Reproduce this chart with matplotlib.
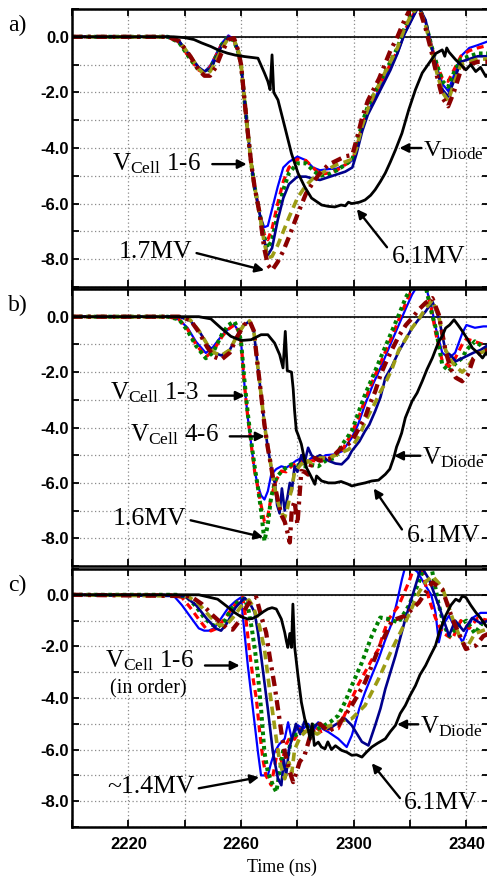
import matplotlib
matplotlib.use('Agg')
import matplotlib.pyplot as plt
from matplotlib.ticker import FixedLocator, NullFormatter, FormatStrFormatter

plt.rcParams['mathtext.fontset'] = 'custom'
plt.rcParams['mathtext.rm'] = 'Liberation Serif'
plt.rcParams['mathtext.it'] = 'Liberation Serif:italic'

SERIF = 'Liberation Serif'
SANS = 'Liberation Sans'

X_MAJOR = [2220, 2260, 2300, 2340]
X_MINOR = [2200, 2240, 2280, 2320]
Y_MAJOR = [0.0, -2.0, -4.0, -6.0, -8.0]
Y_MINOR = [1.0, -1.0, -3.0, -5.0, -7.0, -9.0]
X_LIM = (2200, 2348)
Y_LIM = (-9, 1)

# ---------------- panel a ----------------
A_T_CELL = [2200, 2234, 2238, 2242, 2245, 2247, 2249, 2251, 2253, 2255.5, 2257.5, 2259, 2260, 2261.2,
            2262.4, 2263.6, 2264.8, 2266.6, 2268.2, 2269.5, 2271, 2273, 2275, 2277, 2280, 2283, 2285.5,
            2288, 2291, 2294, 2297, 2299.5, 2301, 2303, 2305, 2307, 2309, 2311, 2313, 2315.5, 2318,
            2320.5, 2323, 2325.5, 2327.5, 2329.5, 2331.5, 2333.5, 2335.5, 2338, 2341, 2344, 2348]
A_V_CELL1 = [0, 0, -0.2, -0.75, -1.15, -1.25, -1.05, -0.65, -0.25, 0.05, -0.1, -0.5, -1.0, -2.25,
             -3.45, -4.55, -5.4, -6.36, -6.85, -6.8, -6.2, -5.4, -4.7, -4.5, -4.31, -4.44, -4.7,
             -4.8, -4.76, -4.74, -4.6, -4.45, -4.1, -3.3, -2.7, -2.3, -1.9, -1.45, -1.1, -0.6, 0.1,
             0.6, 1.1, 0.5, -0.3, -1.1, -1.7, -1.95, -1.4, -0.7, -0.4, -0.3, -0.15]
A_V_CELL2 = [0, 0, -0.2, -0.8, -1.2, -1.3, -1.1, -0.7, -0.3, 0.0, -0.15, -0.55, -1.0, -2.25,
             -3.45, -4.55, -5.4, -6.36, -7.1, -7.3, -6.9, -6.0, -5.2, -4.7, -4.4, -4.45, -4.7,
             -4.95, -4.9, -4.8, -4.6, -4.45, -4.0, -3.2, -2.6, -2.2, -1.8, -1.35, -1.0, -0.5, 0.2,
             0.7, 1.1, 0.5, -0.3, -1.0, -1.5, -1.6, -1.2, -0.7, -0.5, -0.4, -0.3]
A_V_CELL3 = [0, 0, -0.2, -0.8, -1.2, -1.3, -1.15, -0.75, -0.3, 0.0, -0.15, -0.55, -1.0, -2.25,
             -3.45, -4.55, -5.4, -6.36, -7.2, -7.6, -7.3, -6.4, -5.5, -4.9, -4.55, -4.55, -4.8,
             -5.0, -4.95, -4.8, -4.6, -4.4, -3.9, -3.1, -2.5, -2.1, -1.7, -1.3, -0.9, -0.4, 0.3,
             0.8, 1.1, 0.5, -0.3, -1.0, -1.6, -1.8, -1.3, -0.8, -0.7, -0.6, -0.6]
A_V_CELL4 = [0, 0, -0.15, -0.7, -1.1, -1.25, -1.15, -0.8, -0.35, 0.0, -0.1, -0.5, -1.0, -2.25,
             -3.45, -4.55, -5.4, -6.36, -7.3, -7.85, -7.6, -6.6, -5.8, -5.3, -5.03, -5.03, -5.1,
             -5.15, -5.05, -4.95, -4.85, -4.7, -4.2, -3.4, -2.8, -2.4, -2.0, -1.6, -1.2, -0.6, 0.1,
             0.6, 1.1, 0.6, -0.3, -1.2, -1.9, -2.15, -1.6, -0.9, -0.8, -0.7, -0.7]
A_V_CELL5 = [0, 0, -0.15, -0.7, -1.15, -1.35, -1.25, -0.9, -0.45, -0.05, -0.1, -0.5, -1.0, -2.25,
             -3.45, -4.55, -5.4, -6.36, -7.4, -7.95, -7.9, -7.5, -7.0, -6.5, -5.8, -5.35, -5.1,
             -4.95, -4.75, -4.6, -4.5, -4.4, -4.0, -3.2, -2.6, -2.1, -1.7, -1.3, -0.9, -0.4, 0.3,
             0.8, 1.1, 0.4, -0.4, -1.3, -2.0, -2.3, -1.7, -1.0, -0.9, -0.8, -0.8]
A_V_CELL6 = [0, 0, -0.15, -0.7, -1.2, -1.4, -1.4, -1.1, -0.6, -0.1, -0.05, -0.5, -1.0, -2.25,
             -3.45, -4.55, -5.4, -6.36, -7.6, -8.2, -8.4, -8.1, -7.7, -7.2, -6.4, -5.65, -5.25,
             -4.9, -4.6, -4.45, -4.3, -4.25, -3.7, -2.9, -2.3, -1.9, -1.5, -1.0, -0.5, 0.0, 0.6,
             1.1, 1.1, 0.3, -0.5, -1.4, -2.2, -2.5, -2.0, -1.2, -1.0, -0.9, -0.9]
A_T_DIODE = [2200, 2236, 2240, 2243.3, 2246, 2249.3, 2252, 2255.2, 2258, 2261.2, 2263.6, 2266, 2268.3,
             2269.5, 2270.3, 2271.0, 2271.6, 2273.1, 2275.5, 2277.9, 2280.2, 2282.6, 2285, 2288.6,
             2291, 2293.3, 2295.5, 2297, 2298.1, 2299.3, 2302, 2304, 2306, 2307.6, 2309.5, 2311.2,
             2313, 2314.8, 2317.1, 2319.5, 2321.9, 2324.3, 2326.7, 2329.1, 2331.4, 2332.3, 2333,
             2333.8, 2336.2, 2338, 2339.8, 2341.5, 2343.3, 2345, 2346.9, 2348]
A_V_DIODE = [0, 0, -0.03, -0.1, -0.22, -0.35, -0.48, -0.59, -0.66, -0.71, -0.74, -0.77, -1.3,
             -1.6, -1.9, -0.65, -2.0, -2.27, -3.23, -4.2, -4.9, -5.4, -5.8, -6.05,
             -6.1, -6.12, -6.05, -6.08, -5.95, -6.0, -5.95, -5.87, -5.7, -5.5, -5.2, -4.9,
             -4.5, -4.07, -3.47, -2.63, -1.9, -1.3, -0.95, -0.6, -0.47, -0.7, -0.4,
             -0.55, -0.83, -1.0, -1.19, -1.0, -1.25, -1.1, -1.43, -1.3]

# ---------------- panel b ----------------
B_T_G1 = [2200, 2234, 2238, 2241, 2244, 2247.5, 2250, 2253.4, 2255.5, 2257.6, 2259, 2260, 2261.2,
          2262.4, 2263.6, 2264.8, 2266, 2267.1, 2268.3, 2269.5, 2270.7, 2272.5, 2274.3, 2276, 2277.9,
          2279.5, 2281.4, 2283, 2285, 2287.4, 2290, 2293.3, 2296, 2299.3, 2301.5, 2304, 2307, 2310,
          2313, 2316, 2318.5, 2320.7, 2322.5, 2325.5, 2327.5, 2329.1, 2331.4, 2333.8, 2336, 2338.5,
          2340, 2343, 2346, 2348]
B_V_CELL1 = [0, 0, -0.1, -0.4, -0.9, -1.31, -1.1, -0.65, -0.45, -0.29, -0.5, -0.9, -2.45,
             -3.65, -4.6, -5.57, -6.1, -6.45, -6.6, -6.3, -5.7, -5.5, -5.4, -5.45, -5.33,
             -5.2, -5.1, -5.25, -5.1, -5.2, -5.0, -4.97, -4.85, -4.37, -3.9, -3.17, -2.4, -1.73,
             -1.0, -0.29, 0.3, 0.8, 1.1, 1.1, 0.4, -0.4, -1.3, -1.5, -1.3, -0.6,
             -0.3, -0.4, -0.35, -0.35]
B_V_CELL2 = [0, 0, -0.1, -0.45, -1.0, -1.45, -1.25, -0.7, -0.45, -0.3, -0.5, -0.9, -2.45,
             -3.65, -4.6, -5.57, -6.2, -6.8, -7.4, -7.2, -6.5, -5.9, -5.57, -5.6, -5.4,
             -5.3, -5.2, -5.35, -5.2, -5.2, -5.1, -5.0, -4.8, -4.2, -3.7, -3.0, -2.25, -1.55,
             -0.85, -0.1, 0.5, 1.0, 1.1, 1.1, 0.3, -0.6, -1.6, -1.8, -1.5, -1.0,
             -0.8, -0.9, -1.0, -1.0]
B_V_CELL3 = [0, 0, -0.1, -0.5, -1.05, -1.5, -1.3, -0.6, -0.3, -0.17, -0.45, -0.9, -2.3,
             -3.5, -4.5, -5.4, -6.17, -7.0, -8.1, -7.5, -6.5, -5.8, -5.6, -5.45, -5.33,
             -5.35, -5.4, -5.4, -5.35, -5.4, -5.2, -5.1, -4.6, -4.13, -3.5, -2.81, -2.1, -1.37,
             -0.65, 0.07, 0.7, 1.1, 1.1, 1.1, 0.2, -0.41, -1.73, -1.97, -1.7, -1.49,
             -1.2, -0.89, -1.1, -1.2]
B_T_G2 = [2200, 2238, 2242, 2245, 2248, 2250.5, 2253, 2256, 2258.5, 2261, 2263, 2264.5, 2266,
          2267.1, 2268.3, 2269.5, 2270.5, 2271.3, 2272, 2272.8, 2273.7, 2274.5, 2275.5, 2276.5,
          2277.3, 2278, 2279, 2280, 2281.4, 2282.5, 2283.8, 2285, 2286.2, 2288, 2291, 2293.5,
          2295.7, 2298, 2299.3, 2302, 2304, 2305.5, 2307.6, 2309.5, 2311.2, 2313.5, 2316, 2318.5,
          2320.7, 2323, 2325.5, 2327.9, 2330.2, 2332.6, 2334.5, 2336.2, 2338.5, 2340.5, 2342.5,
          2345, 2348]
B_V_CELL4 = [0, 0, -0.15, -0.5, -1.0, -1.3, -1.4, -1.2, -0.7, -0.3, -0.17, -0.5, -1.85,
             -2.8, -3.9, -4.73, -5.3, -5.8, -6.0, -6.8, -7.1, -6.2, -7.0, -6.5,
             -6.0, -6.3, -5.4, -5.6, -5.0, -5.3, -4.73, -5.0, -5.1, -5.0, -5.2, -5.3,
             -5.33, -5.1, -4.85, -4.5, -4.13, -3.9, -3.41, -2.9, -2.21, -1.8, -1.25, -0.8,
             -0.41, -0.1, 0.19, 0.55, -0.05, -1.25, -1.4, -1.61, -1.5, -1.4, -1.3,
             -1.2, -1.0]
B_V_CELL5 = [0, 0, -0.12, -0.5, -1.0, -1.3, -1.4, -1.2, -0.7, -0.3, -0.15, -0.5, -1.85,
             -2.8, -3.9, -4.73, -5.3, -5.8, -6.2, -6.6, -6.9, -7.1, -7.25, -6.9,
             -6.5, -6.2, -5.6, -5.5, -5.3, -5.4, -5.2, -5.3, -5.2, -5.1, -5.1, -5.0,
             -4.9, -4.8, -4.7, -4.3, -3.8, -3.5, -3.1, -2.7, -2.4, -1.9, -1.2, -0.8,
             -0.4, -0.1, 0.3, 0.6, 0.0, -1.2, -1.6, -1.8, -2.0, -1.8, -1.5,
             -1.3, -1.2]
B_V_CELL6 = [0, 0, -0.12, -0.55, -1.1, -1.45, -1.55, -1.3, -0.75, -0.3, -0.15, -0.5, -1.85,
             -2.8, -3.9, -4.73, -5.3, -5.8, -6.1, -6.5, -6.9, -7.2, -7.4, -7.8,
             -8.15, -7.0, -6.65, -7.5, -5.57, -5.6, -5.7, -5.3, -5.1, -5.2, -5.15, -4.95,
             -4.73, -4.6, -4.5, -4.0, -3.65, -3.2, -2.7, -2.1, -1.7, -1.2, -0.7, -0.3,
             -0.05, 0.25, 0.5, 0.67, 0.07, -1.25, -1.9, -2.2, -2.33, -2.09, -1.5,
             -1.25, -1.2]
B_T_DIODE = [2200, 2245, 2249.3, 2252.9, 2256.4, 2260, 2263.6, 2267.1, 2269.5, 2271.9, 2273.7, 2274.9,
             2275.7, 2276.4, 2277.9, 2278.5, 2279, 2279.6, 2280.2, 2281.4, 2282, 2283.2, 2284.5,
             2286.2, 2286.8, 2288.6, 2291, 2293.3, 2295.5, 2298.1, 2299.3, 2301.7, 2304, 2306.4,
             2308.8, 2311.2, 2312.8, 2314.2, 2315.2, 2316, 2317, 2318.3, 2319.5, 2320.7, 2322.5,
             2324.3, 2326, 2327.9, 2329, 2330.2, 2331.4, 2332.6, 2334, 2335.6, 2337, 2338.6,
             2340.3, 2342.1, 2344, 2345.7, 2347, 2348]
B_V_DIODE = [0, 0, -0.08, -0.41, -0.71, -0.86, -0.83, -0.65, -0.65, -0.95, -1.37, -1.85,
             -0.53, -1.95, -2.0, -2.6, -3.4, -4.1, -4.25, -4.6, -4.9, -5.45, -5.7,
             -6.05, -5.75, -5.93, -6.0, -6.0, -5.95, -6.05, -6.11, -6.05, -6.0, -5.93,
             -5.9, -5.69, -5.5, -5.09, -4.7, -4.49, -4.2, -3.65, -3.35, -3.05, -2.75,
             -2.33, -1.9, -1.49, -1.2, -0.89, -0.7, -0.41, -0.3, -0.11, -0.3, -0.53,
             -0.8, -1.13, -1.3, -1.49, -1.3, -1.45]

# ---------------- panel c ----------------
C_T_CELL1 = [2200, 2233, 2236.2, 2239, 2242, 2245, 2246.9, 2248.5, 2250.5, 2253, 2255.5, 2258, 2260,
             2261.2, 2262.4, 2264.2, 2266, 2267.1, 2268.3, 2269.5, 2270.7, 2271.9, 2273.5, 2275.5,
             2276.7, 2278, 2280.2, 2282, 2283.8, 2285.5, 2287.4, 2289, 2291, 2294.5, 2297.5, 2299.3,
             2300.5, 2302, 2304, 2306.5, 2308.8, 2311, 2313.6, 2315.5, 2317.1, 2318.3, 2320, 2322.5,
             2325.5, 2327.5, 2329, 2330.2, 2331.5, 2333.8, 2336, 2338.6, 2340.5, 2342.1, 2345, 2348]
C_V_CELL1 = [0, 0, -0.05, -0.4, -0.85, -1.3, -1.39, -1.39, -1.3, -0.9, -0.5, -0.25, -0.1,
             -1.46, -2.74, -4.42, -6.1, -7.0, -7.0, -7.0, -6.5, -6.1, -5.8, -5.58,
             -4.94, -5.6, -5.06, -5.2, -5.0, -5.3, -4.94, -5.2, -5.32, -5.58, -5.9, -5.45,
             -5.0, -4.4, -3.78, -3.1, -2.49, -1.8, -1.07, -0.2, 0.6, 1.1, 1.1, 0.9,
             0.35, 0.0, -0.68, -1.84, -1.2, -0.81, -1.3, -1.84, -1.3, -0.9, -0.7, -0.7]
C_T_CELL2 = [2200, 2235, 2239, 2242, 2245, 2247.5, 2249.3, 2251.5, 2254, 2257, 2259, 2260.6, 2261.8,
             2263.0, 2264.2, 2265.4, 2266.6, 2267.8, 2268.8, 2270.7, 2272, 2273, 2274.5, 2276,
             2277.5, 2279, 2281, 2283.5, 2286, 2288.5, 2291, 2294.5, 2297, 2299.3, 2301.5, 2304,
             2306.5, 2308.8, 2310.5, 2312.4, 2315.9, 2319.5, 2321.5, 2324, 2326.7, 2329, 2331.4,
             2335, 2338, 2341, 2344, 2348]
C_V_CELL2 = [0, 0, -0.1, -0.5, -0.95, -1.3, -1.4, -1.3, -0.95, -0.5, -0.25, -0.1, -1.0,
             -2.2, -3.2, -4.0, -5.3, -6.4, -7.0, -7.38, -6.6, -6.0, -6.5, -5.8,
             -5.5, -5.6, -5.2, -5.4, -5.1, -5.3, -5.2, -5.19, -4.6, -4.03, -3.5, -3.0,
             -2.5, -2.1, -1.5, -0.94, -0.43, 0.48, 1.1, 1.1, -0.17, -0.9, -1.46,
             -1.71, -1.0, -1.3, -0.9, -1.0]
C_T_CELL3 = [2200, 2237, 2241, 2244, 2247, 2249.5, 2251.7, 2254, 2256.5, 2259, 2261.2, 2262.5, 2263.8,
             2265, 2266, 2267.1, 2268.3, 2269.5, 2271.3, 2272.5, 2273.5, 2275, 2276.5, 2278, 2280,
             2282, 2285, 2287, 2289, 2292, 2294.5, 2296.9, 2299.3, 2302.9, 2306.4, 2309.4, 2312.4,
             2315.9, 2319.5, 2323.1, 2325, 2327.5, 2330, 2332, 2334, 2337, 2340, 2343, 2345.5, 2348]
C_V_CELL3 = [0, 0, -0.1, -0.45, -0.9, -1.15, -1.25, -1.05, -0.55, -0.25, -0.15, -0.5, -1.3,
             -2.2, -3.13, -4.42, -6.1, -6.87, -7.38, -7.64, -7.0, -6.0, -6.3, -5.5, -5.4,
             -5.2, -5.0, -5.2, -5.1, -4.9, -4.68, -4.16, -3.52, -2.62, -1.59, -0.88, -0.94,
             -1.07, -0.43, 0.48, 1.1, 1.1, -0.3, -1.2, -1.6, -1.2, -1.0, -1.5, -1.1, -1.2]
C_T_CELL4 = [2200, 2240, 2244, 2248, 2251, 2252.9, 2255, 2258, 2261.2, 2263, 2264.8, 2266, 2267.1,
             2268.3, 2269.5, 2271.3, 2273.1, 2274.3, 2275.2, 2276, 2277, 2278, 2279.5, 2281, 2282.5,
             2284, 2287, 2291, 2294, 2296.9, 2299.3, 2302.9, 2305.2, 2307.6, 2309.5, 2311.2, 2314.8,
             2318.3, 2321.9, 2324, 2326.7, 2330.2, 2333.8, 2336, 2339, 2342, 2345, 2348]
C_V_CELL4 = [0, -0.05, -0.4, -0.95, -1.3, -1.39, -1.1, -0.5, -0.12, -0.3, -0.68, -1.46, -2.36,
             -3.39, -4.42, -6.1, -7.13, -7.38, -6.4, -7.0, -6.0, -5.6, -5.0, -5.4, -4.9,
             -5.3, -5.0, -5.2, -5.0, -4.8, -5.06, -5.7, -5.84, -5.06, -4.4, -3.65, -2.36,
             -0.94, 0.35, 1.1, 0.6, -0.43, -1.59, -1.0, -1.4, -0.9, -1.1, -1.0]
C_T_CELL5 = [2200, 2241, 2245, 2249, 2252, 2254.5, 2257, 2260, 2262.8, 2264.5, 2266.5, 2268.3, 2269.5,
             2270.7, 2272.5, 2273.7, 2275.5, 2277, 2278, 2279, 2281, 2284, 2287, 2291, 2295, 2299.3,
             2304, 2308.8, 2313.6, 2318.3, 2323.1, 2325.5, 2327.9, 2331.4, 2335, 2337.5, 2339.8,
             2343, 2345.5, 2348]
C_V_CELL5 = [0, -0.05, -0.35, -0.85, -1.15, -1.2, -0.9, -0.45, -0.2, -0.5, -1.2, -2.1, -3.13,
             -4.16, -5.58, -6.48, -7.13, -6.5, -6.9, -6.0, -5.5, -5.2, -5.4, -5.1, -4.9, -4.8,
             -4.29, -3.26, -2.1, -1.07, 0.09, 0.5, 0.73, 0.3, -0.9, -1.6, -2.1,
             -1.5, -1.4, -1.3]
C_T_CELL6 = [2200, 2242, 2246, 2250, 2253, 2255, 2257, 2259.5, 2262, 2264, 2265.4, 2267.1, 2268.9,
             2270.1, 2271.9, 2273.1, 2274.3, 2275.5, 2277.3, 2278.5, 2279.6, 2280.8, 2282.6, 2285,
             2288, 2291, 2294.5, 2299.3, 2304, 2308.8, 2313.6, 2318.3, 2323.1, 2327.9, 2331.4, 2335,
             2339.8, 2343.3, 2346, 2348]
C_V_CELL6 = [0, -0.05, -0.35, -0.8, -1.1, -1.3, -1.35, -1.0, -0.45, -0.15, -0.1, -0.81, -1.46,
             -2.36, -3.52, -4.42, -5.32, -6.1, -6.87, -7.26, -6.9, -6.48, -6.2, -5.3,
             -5.0, -5.3, -5.06, -4.29, -3.39, -2.1, -1.0, -0.81, -0.3, 0.48, 0.22, -0.94,
             -2.1, -1.97, -1.6, -1.5]
C_T_DIODE = [2200, 2245, 2247, 2251.7, 2255, 2257.6, 2260, 2262.4, 2264, 2266, 2268, 2269.5, 2271,
             2272.5, 2274.3, 2275.5, 2276.1, 2276.6, 2277.3, 2277.9, 2278.4, 2279, 2280.2, 2281.4,
             2282.6, 2283.8, 2284.5, 2285.2, 2286, 2287.4, 2288.5, 2289.8, 2290.8, 2292.1, 2293.5,
             2295.7, 2297.5, 2299.3, 2301, 2302.9, 2304.5, 2306.4, 2308.5, 2311.2, 2313, 2314.8,
             2316.5, 2318.3, 2320, 2321.9, 2323.5, 2325.5, 2327, 2329, 2330.5, 2332.6, 2334.5,
             2336.2, 2337.5, 2338.5, 2339.8, 2341.5, 2343.3, 2345, 2346.9, 2348]
C_V_DIODE = [0, 0, -0.05, -0.17, -0.45, -0.68, -0.85, -0.94, -0.92, -0.81, -0.65, -0.55, -0.5,
             -0.55, -0.94, -1.46, -1.8, -2.04, -1.5, -2.04, -0.36, -2.0, -3.13, -4.16,
             -4.81, -5.19, -5.6, -5.0, -5.84, -5.71, -5.9, -5.97, -5.7, -6.0, -5.85,
             -6.03, -6.1, -6.22, -6.2, -6.29, -6.1, -5.9, -5.75, -5.58, -5.3, -5.06,
             -4.6, -4.29, -3.9, -3.52, -3.1, -2.74, -2.4, -1.97, -1.4, -0.81, -0.4,
             -0.17, -0.25, -0.05, -0.1, -0.4, -0.68, -0.9, -1.2, -1.3]

# ---------------- styles ----------------
CELL_STYLES = [
    dict(color='#0000ff', ls='-', lw=1.6),
    dict(color='#ff0000', ls=(0, (2.2, 1.5)), lw=2.3),
    dict(color='#008000', ls=(0, (0.9, 0.9)), lw=2.9),
    dict(color='#00008c', ls='-', lw=1.9),
    dict(color='#9c9c14', ls=(0, (2.4, 1.5)), lw=2.6),
    dict(color='#8b0000', ls=(0, (2.4, 1.3, 0.7, 1.3)), lw=3.1),
]
DIODE_STYLE = dict(color='black', ls='-', lw=2.0)

W, H = 487, 877
fig = plt.figure(figsize=(W / 100, H / 100), dpi=100)


def px_axes(left, top, bottom, right=489):
    return fig.add_axes([left / W, 1 - bottom / H, (right - left) / W, (bottom - top) / H])


ax_a = px_axes(72, 9, 287)
ax_b = px_axes(72, 289, 566)
ax_c = px_axes(72, 569, 827)

panels = [
    (ax_a, [(A_T_CELL, A_V_CELL1), (A_T_CELL, A_V_CELL2), (A_T_CELL, A_V_CELL3),
            (A_T_CELL, A_V_CELL4), (A_T_CELL, A_V_CELL5), (A_T_CELL, A_V_CELL6)],
     (A_T_DIODE, A_V_DIODE)),
    (ax_b, [(B_T_G1, B_V_CELL1), (B_T_G1, B_V_CELL2), (B_T_G1, B_V_CELL3),
            (B_T_G2, B_V_CELL4), (B_T_G2, B_V_CELL5), (B_T_G2, B_V_CELL6)],
     (B_T_DIODE, B_V_DIODE)),
    (ax_c, [(C_T_CELL1, C_V_CELL1), (C_T_CELL2, C_V_CELL2), (C_T_CELL3, C_V_CELL3),
            (C_T_CELL4, C_V_CELL4), (C_T_CELL5, C_V_CELL5), (C_T_CELL6, C_V_CELL6)],
     (C_T_DIODE, C_V_DIODE)),
]

for ax, cells, diode in panels:
    ax.set_xlim(*X_LIM)
    ax.set_ylim(*Y_LIM)
    ax.xaxis.set_major_locator(FixedLocator(X_MAJOR))
    ax.xaxis.set_minor_locator(FixedLocator(X_MINOR))
    ax.yaxis.set_major_locator(FixedLocator(Y_MAJOR))
    ax.yaxis.set_minor_locator(FixedLocator(Y_MINOR))
    ax.yaxis.set_major_formatter(FormatStrFormatter('%.1f'))
    ax.grid(True, which='both', color='#8a8a8a', ls=(0, (1, 2)), lw=0.9, zorder=0)
    ax.tick_params(which='both', direction='in', top=True, right=True, length=5, width=1.3,
                   color='black')
    ax.tick_params(axis='y', pad=2)
    ax.tick_params(axis='x', pad=7)
    for lab in ax.get_yticklabels():
        lab.set_fontfamily(SANS)
        lab.set_fontweight('bold')
        lab.set_fontsize(12)
    for sp in ax.spines.values():
        sp.set_linewidth(1.8)
    ax.axhline(0, color='black', lw=1.2, zorder=1.5)
    for (t, v), st in zip(cells, CELL_STYLES):
        ax.plot(t, v, solid_joinstyle='round', zorder=2, **st)
    ax.plot(diode[0], diode[1], zorder=3, solid_joinstyle='round', **DIODE_STYLE)
    ax.set_axisbelow(True)

for ax in (ax_a, ax_b):
    ax.xaxis.set_major_formatter(NullFormatter())
ax_c.xaxis.set_major_formatter(FormatStrFormatter('%d'))
for lab in ax_c.get_xticklabels():
    lab.set_fontfamily(SANS)
    lab.set_fontweight('bold')
    lab.set_fontsize(12)

ARW = dict(arrowstyle='-|>', color='black', lw=1.7, mutation_scale=13, shrinkA=0, shrinkB=0)
TXT = dict(family=SERIF, color='black', va='center', ha='left')


def label(ax, text, xy_text, size=18):
    ax.text(xy_text[0], xy_text[1], text, fontsize=size, **TXT)


def arrow(ax, tail, head):
    ax.annotate('', xy=head, xytext=tail, arrowprops=ARW)


# panel a annotations
label(ax_a, r'V$_{\mathrm{Cell}}$ 1-6', (2214.3, -4.55))
arrow(ax_a, (2249.8, -4.58), (2262.0, -4.58))
label(ax_a, '1.7MV', (2216.4, -7.75), 18.5)
arrow(ax_a, (2244.2, -7.78), (2268.2, -8.4))
label(ax_a, r'V$_{\mathrm{Diode}}$', (2324.6, -4.1), 17.5)
arrow(ax_a, (2324.0, -4.0), (2316.2, -4.0))
label(ax_a, '6.1MV', (2313.6, -7.93), 18.5)
arrow(ax_a, (2311.8, -7.57), (2301.1, -6.2))

# panel b annotations
label(ax_b, r'V$_{\mathrm{Cell}}$ 1-3', (2213.6, -2.74))
arrow(ax_b, (2248.6, -2.85), (2261.3, -2.85))
label(ax_b, r'V$_{\mathrm{Cell}}$ 4-6', (2220.7, -4.25))
arrow(ax_b, (2256.0, -4.32), (2268.4, -4.32))
label(ax_b, '1.6MV', (2214.6, -7.32), 18.5)
arrow(ax_b, (2242.1, -7.35), (2267.9, -7.96))
label(ax_b, r'V$_{\mathrm{Diode}}$', (2324.3, -5.1))
arrow(ax_b, (2323.6, -5.02), (2314.3, -5.02))
label(ax_b, '6.1MV', (2318.9, -7.93), 18.5)
arrow(ax_b, (2317.1, -7.68), (2307.1, -6.2))

# panel c annotations
label(ax_c, r'V$_{\mathrm{Cell}}$ 1-6', (2211.8, -2.55))
arrow(ax_c, (2247.2, -2.74), (2259.5, -2.74))
label(ax_c, '(in order)', (2213.6, -3.63), 14.5)
label(ax_c, '~1.4MV', (2212.5, -7.46), 18.5)
arrow(ax_c, (2245.0, -7.5), (2266.4, -7.07))
label(ax_c, r'V$_{\mathrm{Diode}}$', (2323.6, -5.1))
arrow(ax_c, (2322.9, -5.02), (2315.4, -5.02))
label(ax_c, '6.1MV', (2317.9, -8.08), 18.5)
arrow(ax_c, (2316.4, -7.88), (2306.4, -6.53))

# panel letters
for txt, ypx in (('a)', 25), ('b)', 305), ('c)', 585)):
    fig.text(8 / W, 1 - ypx / H, txt, family=SERIF, fontsize=17, va='center', ha='left')

fig.text(282 / W, 1 - 872 / H, 'Time (ns)', family=SERIF, fontsize=13, ha='center', va='baseline')

fig.savefig('out.png', dpi=100)
